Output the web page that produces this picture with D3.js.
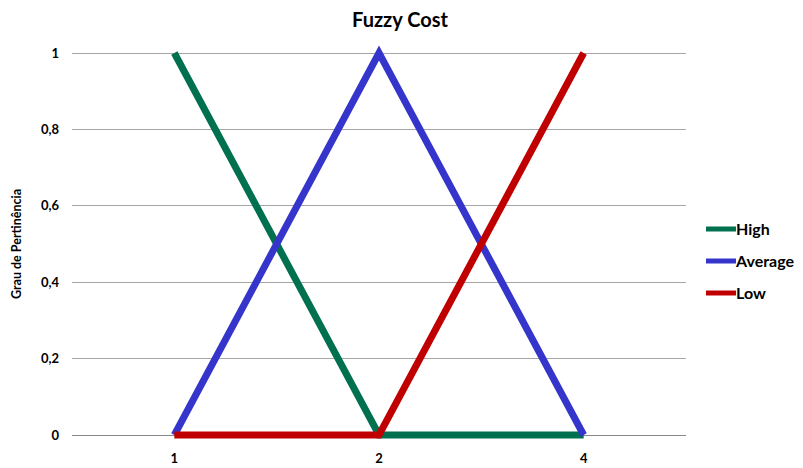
<!DOCTYPE html>
<html><head><meta charset="utf-8">
<script src="https://cdn.jsdelivr.net/npm/d3@7"></script>
<style>body{margin:0;background:#fff}svg{display:block}text{font-family:Lato,"Open Sans",sans-serif;font-weight:bold;fill:#000}</style>
</head><body><svg id="c" width="803" height="468"></svg>
<script>
const categories = ["1", "2", "4"];
const seriesNames = ["High", "Average", "Low"];
const highValues = [1, 0, 0];
const averageValues = [0, 1, 0];
const lowValues = [0, 0, 1];
const yTicks = [0, 0.2, 0.4, 0.6, 0.8, 1];
const colors = ["#00704f", "#3535cc", "#c00000"];
const title = "Fuzzy Cost";
const yLabel = "Grau de Pertinência";

const series = [highValues, averageValues, lowValues];
const svg = d3.select("#c");
const m = {l: 72, r: 686, t: 53, b: 435};
const x = d3.scalePoint().domain(categories).range([m.l, m.r]).padding(0.5);
const y = d3.scaleLinear().domain([0, 1]).range([m.b, m.t]);

// gridlines
svg.append("g").selectAll("line").data(yTicks).join("line")
  .attr("x1", m.l).attr("x2", m.r)
  .attr("y1", d => y(d)).attr("y2", d => y(d))
  .attr("stroke", d => d === 0 ? "#888" : "#a6a6a6").attr("stroke-width", 1)
  .attr("shape-rendering", "crispEdges");

// y tick labels
svg.append("g").selectAll("text").data(yTicks).join("text")
  .attr("x", 59).attr("y", d => y(d)).attr("dy", "0.35em")
  .attr("text-anchor", "end").attr("font-size", 13)
  .text(d => d3.format(".1f")(d).replace(/\.0$/, "").replace(".", ","));

// x tick labels
svg.append("g").selectAll("text").data(categories).join("text")
  .attr("x", d => x(d)).attr("y", 458).attr("dy", "0.35em")
  .attr("text-anchor", "middle").attr("font-size", 13).text(d => d);

// lines
const line = d3.line().x((d, i) => x(categories[i])).y(d => y(d));
svg.append("g").selectAll("path").data(series).join("path")
  .attr("d", d => line(d)).attr("fill", "none")
  .attr("stroke", (d, i) => colors[i]).attr("stroke-width", 7)
  .attr("stroke-linejoin", "miter").attr("stroke-linecap", "butt");

// title
svg.append("text").attr("x", 400).attr("y", 27).attr("text-anchor", "middle")
  .attr("font-size", 20).text(title);

// y label
svg.append("text").attr("transform", "translate(21,244) rotate(-90)")
  .attr("text-anchor", "middle").attr("font-size", 12.5).text(yLabel);

// legend
const lg = svg.append("g").selectAll("g").data(seriesNames).join("g")
  .attr("transform", (d, i) => `translate(706,${229 + i * 32})`);
lg.append("line").attr("x1", 0).attr("x2", 30).attr("y1", 0).attr("y2", 0)
  .attr("stroke", (d, i) => colors[i]).attr("stroke-width", 5);
lg.append("text").attr("x", 30).attr("dy", "0.35em").attr("font-size", 16).text(d => d);
</script></body></html>
